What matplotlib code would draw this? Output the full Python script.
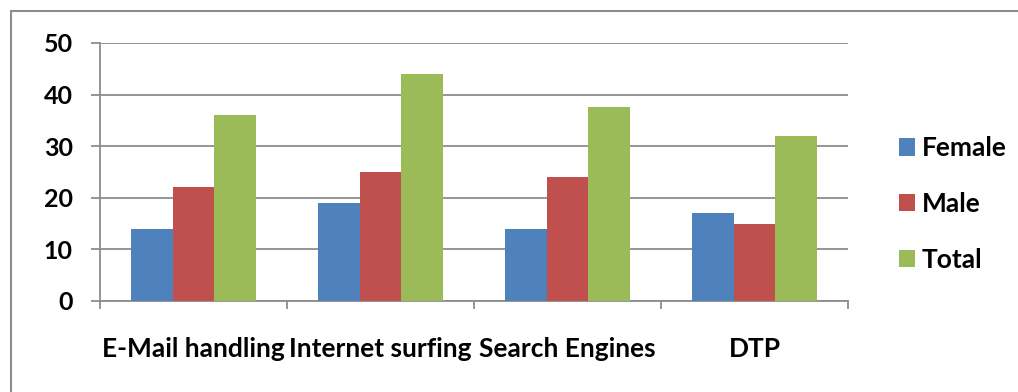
import matplotlib.pyplot as plt
import numpy as np
from matplotlib.patches import Rectangle

categories = ["E-Mail handling", "Internet surfing", "Search Engines", "DTP"]
female = [14, 19, 14, 17]
male = [22, 25, 24, 15]
total = [36, 44, 37.6, 32]
series_names = ["Female", "Male", "Total"]
colors = ["#4F81BD", "#C0504D", "#9BBB59"]

plt.rcParams['font.family'] = ['Lato', 'DejaVu Sans']
plt.rcParams['font.weight'] = 'bold'

W, H = 1018, 392
fig = plt.figure(figsize=(W / 100, H / 100), dpi=100)

# outer chart frame, open on the right and bottom
fig.patches.append(Rectangle((11 / W, -0.2), 1.2, (H - 11) / H + 0.2,
                             transform=fig.transFigure, fill=False,
                             edgecolor="#8c8c8c", linewidth=1.5))

ax = fig.add_axes([100 / W, 1 - 301 / H, (848 - 100) / W, (301 - 43) / H])

x = np.arange(len(categories))
bw = 1 / 4.5
for i, (vals, name, c) in enumerate(zip([female, male, total], series_names, colors)):
    ax.bar(x + (i - 1) * bw, vals, width=bw, color=c, label=name, zorder=3)

ax.set_xlim(-0.5, len(categories) - 0.5)
ax.set_ylim(0, 50)
ax.set_yticks(range(0, 51, 10))
ax.yaxis.grid(True, color="#8c8c8c", linewidth=1.3, zorder=0)

for s in ["top", "right"]:
    ax.spines[s].set_visible(False)
for s in ["left", "bottom"]:
    ax.spines[s].set_color("#8c8c8c")
    ax.spines[s].set_linewidth(1.3)

# category labels sit between boundary ticks
ax.set_xticks(np.arange(-0.5, len(categories), 1))
ax.set_xticklabels([])
ax.set_xticks(x, minor=True)
ax.set_xticklabels(categories, minor=True, fontsize=19)
ax.tick_params(axis="x", which="major", length=5.8, width=1.3, color="#8c8c8c")
ax.tick_params(axis="x", which="minor", length=0, pad=26)
ax.tick_params(axis="y", length=6.5, width=1.3, color="#8c8c8c", labelsize=18, pad=13)

leg = ax.legend(loc="center left", bbox_to_anchor=(1.036, 0.376), frameon=False,
                fontsize=19, handlelength=0.62, handleheight=0.62,
                labelspacing=1.2, handletextpad=0.25)

fig.savefig("out.png", dpi=100)
